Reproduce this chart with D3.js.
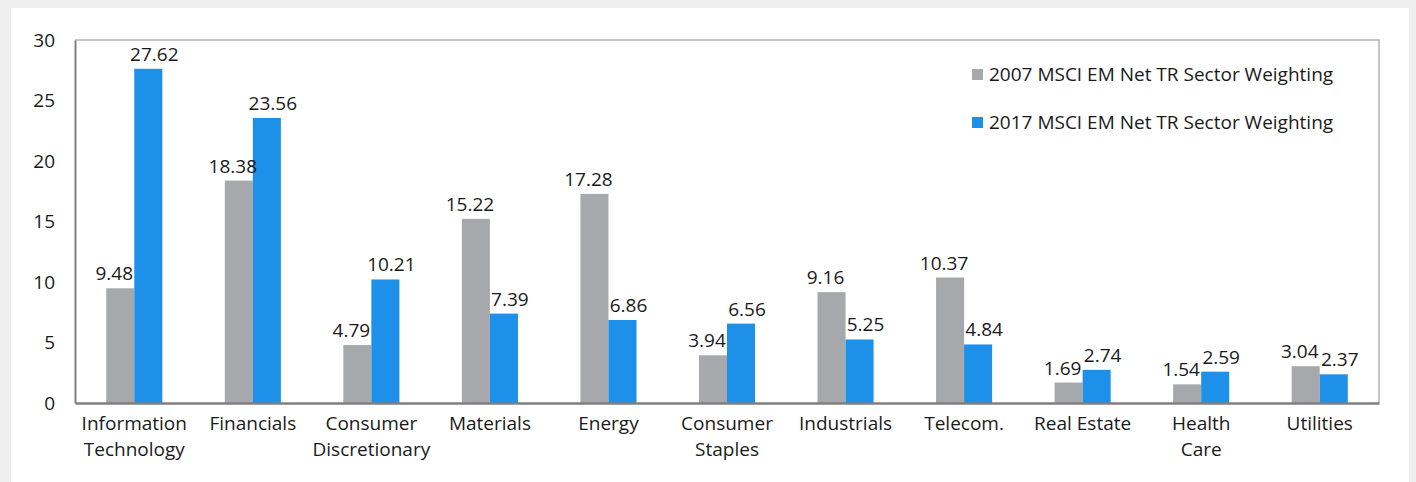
<!DOCTYPE html>
<html>
<head>
<meta charset="utf-8">
<script src="https://cdn.jsdelivr.net/npm/d3@7"></script>
<style>
  body { margin: 0; background: #efefef; }
  svg { display: block; font-family: "Open Sans", "Noto Sans", sans-serif; }
</style>
</head>
<body>
<svg id="chart"></svg>
<script>
const width = 1416, height = 482;

// data
const sectors = [
  ["Information", "Technology"], ["Financials"], ["Consumer", "Discretionary"],
  ["Materials"], ["Energy"], ["Consumer", "Staples"], ["Industrials"],
  ["Telecom."], ["Real Estate"], ["Health", "Care"], ["Utilities"]
];
const seriesNames = ["2007 MSCI EM Net TR Sector Weighting", "2017 MSCI EM Net TR Sector Weighting"];
const weights2007 = [9.48, 18.38, 4.79, 15.22, 17.28, 3.94, 9.16, 10.37, 1.69, 1.54, 3.04];
const weights2017 = [27.62, 23.56, 10.21, 7.39, 6.86, 6.56, 5.25, 4.84, 2.74, 2.59, 2.37];
const yTicks = [0, 5, 10, 15, 20, 25, 30];

const colors = ["#a7a8ab", "#1d90e9"];
const plot = { left: 75, right: 1379, top: 40, bottom: 403 };
const fontSize = 19;

const svg = d3.select("#chart").attr("width", width).attr("height", height);

// white panel
svg.append("rect")
  .attr("x", 11).attr("y", 8)
  .attr("width", 1398).attr("height", height - 8)
  .attr("fill", "#fff");

const keys = sectors.map(d => d.join(" "));

const x0 = d3.scaleBand()
  .domain(keys)
  .range([plot.left, plot.right])
  .paddingInner(0.527)
  .paddingOuter(0.2635);

const x1 = d3.scaleBand()
  .domain([0, 1])
  .range([0, x0.bandwidth()]);

const y = d3.scaleLinear()
  .domain([0, 30])
  .range([plot.bottom, plot.top]);

// frame top + right
svg.append("path")
  .attr("d", `M${plot.left},${plot.top}H${plot.right}V${plot.bottom}`)
  .attr("fill", "none")
  .attr("stroke", "#b4b4b4")
  .attr("stroke-width", 1.5);

// bars
const rows = keys.map((k, i) => ({ key: k, vals: [weights2007[i], weights2017[i]] }));

const groups = svg.append("g").selectAll("g")
  .data(rows)
  .join("g")
  .attr("transform", d => `translate(${x0(d.key)},0)`);

groups.selectAll("rect")
  .data(d => d.vals.map((v, s) => ({ v, s })))
  .join("rect")
  .attr("x", d => x1(d.s))
  .attr("y", d => y(d.v))
  .attr("width", x1.bandwidth())
  .attr("height", d => y(0) - y(d.v))
  .attr("fill", d => colors[d.s]);

// value labels
groups.selectAll("text")
  .data(d => d.vals.map((v, s) => ({ v, s })))
  .join("text")
  .attr("x", d => x1(d.s) + x1.bandwidth() / 2 + (d.s === 0 ? -6 : 6))
  .attr("y", d => y(d.v) - 8)
  .attr("text-anchor", "middle")
  .attr("font-size", fontSize)
  .attr("fill", "#1a1a1a")
  .text(d => d.v.toFixed(2));

// y axis
const yAxis = svg.append("g")
  .attr("transform", `translate(${plot.left},0)`)
  .call(d3.axisLeft(y).tickValues(yTicks).tickSize(0).tickPadding(20));
yAxis.select(".domain").attr("stroke", "#7f7f7f").attr("stroke-width", 2);
yAxis.selectAll("text").attr("font-size", fontSize).attr("fill", "#1a1a1a")
  .attr("font-family", "\"Open Sans\", sans-serif");

// x axis
const xAxis = svg.append("g")
  .attr("transform", `translate(0,${plot.bottom})`)
  .call(d3.axisBottom(x0).tickSize(0).tickFormat(""));
xAxis.select(".domain").attr("stroke", "#7f7f7f").attr("stroke-width", 2.5);

xAxis.selectAll(".tick").each(function(k, i) {
  const t = d3.select(this).append("text")
    .attr("text-anchor", "middle")
    .attr("font-size", fontSize)
    .attr("fill", "#1a1a1a")
    .attr("font-family", "\"Open Sans\", sans-serif");
  sectors[i].forEach((line, j) => {
    t.append("tspan").attr("x", 0).attr("y", 27 + j * 26).text(line);
  });
});

// legend
const legend = svg.append("g").attr("transform", "translate(972,69)");
seriesNames.forEach((name, i) => {
  const g = legend.append("g").attr("transform", `translate(0,${i * 48})`);
  g.append("rect").attr("width", 11).attr("height", 11).attr("fill", colors[i]);
  g.append("text")
    .attr("x", 17).attr("y", 12)
    .attr("font-size", fontSize)
    .attr("fill", "#1a1a1a")
    .text(name);
});
</script>
</body>
</html>
